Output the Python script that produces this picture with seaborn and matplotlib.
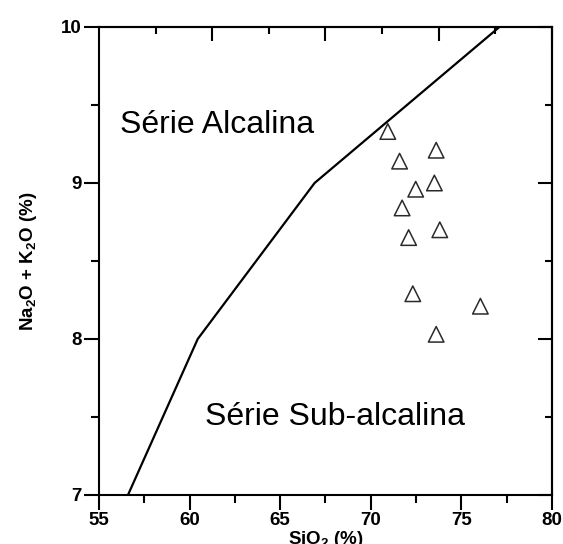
import matplotlib
matplotlib.use("Agg")
import matplotlib.pyplot as plt
import seaborn as sns
import pandas as pd
from matplotlib.ticker import FixedLocator, MultipleLocator

# Alkaline / sub-alkaline divide (Irvine & Baragar style boundary)
boundary_sio2 = [56.6, 60.45, 66.9, 77.1]
boundary_alk = [7.0, 8.0, 9.0, 10.0]

# Sample compositions
sio2 = [70.94, 71.59, 73.61, 72.48, 73.51, 71.73, 73.81, 72.09, 72.32, 76.05, 73.61]
alk = [9.33, 9.14, 9.21, 8.96, 9.00, 8.84, 8.70, 8.65, 8.29, 8.21, 8.03]

x_ticks = [55, 60, 65, 70, 75, 80]
y_ticks = [7, 8, 9, 10]

sns.set_style("ticks")
plt.rcParams["font.family"] = ["Liberation Sans", "DejaVu Sans"]
plt.rcParams["mathtext.fontset"] = "custom"
plt.rcParams["mathtext.rm"] = "Liberation Sans:bold"
plt.rcParams["mathtext.it"] = "Liberation Sans:bold"
plt.rcParams["mathtext.bf"] = "Liberation Sans:bold"
plt.rcParams["mathtext.default"] = "rm"
plt.rcParams["text.color"] = "black"
plt.rcParams["axes.labelcolor"] = "black"
plt.rcParams["xtick.color"] = "black"
plt.rcParams["ytick.color"] = "black"

fig = plt.figure(figsize=(5.63, 5.44), dpi=100)
ax = fig.add_axes([0.1758, 0.0901, 0.8046, 0.8603])

line_df = pd.DataFrame({"SiO2": boundary_sio2, "alk": boundary_alk})
pts_df = pd.DataFrame({"SiO2": sio2, "alk": alk})

sns.lineplot(data=line_df, x="SiO2", y="alk", sort=False, estimator=None,
             color="black", linewidth=1.6, ax=ax)
sns.scatterplot(data=pts_df, x="SiO2", y="alk", marker="^", s=125,
                facecolor="none", edgecolor="#2a2a2a", linewidth=1.1, ax=ax)

ax.set_xlim(55, 80)
ax.set_ylim(7, 10)

ax.xaxis.set_major_locator(FixedLocator(x_ticks))
ax.xaxis.set_minor_locator(MultipleLocator(2.5))
ax.yaxis.set_major_locator(FixedLocator(y_ticks))
ax.yaxis.set_minor_locator(MultipleLocator(0.5))

for side in ax.spines.values():
    side.set_linewidth(1.5)
    side.set_color("black")

ax.tick_params(which="major", direction="out", length=11, width=1.5,
               labelsize=13.5, pad=1.5, colors="black")
ax.tick_params(which="minor", direction="out", length=5.5, width=1.5)
for lab in ax.get_xticklabels() + ax.get_yticklabels():
    lab.set_fontweight("bold")

# mirrored axes with inward ticks
top = ax.secondary_xaxis("top")
top.set_xticks([61.25, 67.5, 73.75, 80])
top.xaxis.set_minor_locator(FixedLocator([58.125, 64.375, 70.625, 76.875]))
top.tick_params(which="major", direction="in", length=10, width=1.5, labeltop=False)
top.tick_params(which="minor", direction="in", length=5, width=1.5)
top.spines["top"].set_linewidth(1.5)

right = ax.secondary_yaxis("right")
right.set_yticks(y_ticks)
right.yaxis.set_minor_locator(MultipleLocator(0.5))
right.tick_params(which="major", direction="in", length=10, width=1.5, labelright=False)
right.tick_params(which="minor", direction="in", length=5, width=1.5)
right.spines["right"].set_linewidth(1.5)

ax.set_xlabel(r"SiO$_2$ (%)", fontsize=13.5, fontweight="bold", labelpad=0)
ax.set_ylabel(r"Na$_2$O + K$_2$O (%)", fontsize=13.5, fontweight="bold", labelpad=16)

ax.text(56.16, 9.318, "Série Alcalina", fontsize=23, va="baseline", ha="left")
ax.text(60.85, 7.446, "Série Sub-alcalina", fontsize=23, va="baseline", ha="left")

fig.savefig("out.png", dpi=100)
